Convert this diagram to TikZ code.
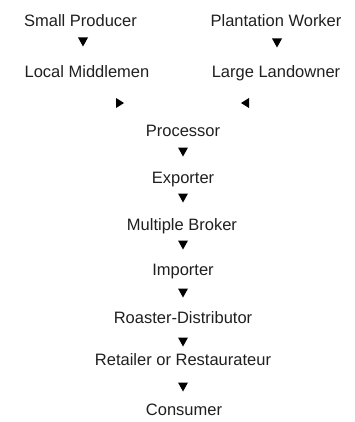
\documentclass[tikz,border=0pt]{standalone}
\usepackage{fontspec}
\setmainfont{Liberation Sans}
\begin{document}
\begin{tikzpicture}[x=1pt,y=-1pt,
  lbl/.style={anchor=base,inner sep=0pt,font=\fontsize{16.5}{18}\selectfont,text=black!88},
  tridown/.pic={\fill[black] (-5,-4.5) -- (5,-4.5) -- (0,4.5) -- cycle;},
  triright/.pic={\fill[black] (-4,-5) -- (-4,5) -- (4,0) -- cycle;},
  trileft/.pic={\fill[black] (4,-5) -- (4,5) -- (-4,0) -- cycle;}]
\useasboundingbox (0,0) rectangle (354,422);
\node[lbl] (sp) at (80.5,27) {Small Producer};
\node[lbl] (pw) at (276,27) {Plantation Worker};
\node[lbl] (lm) at (87,78) {Local Middlemen};
\node[lbl] (ll) at (276,78) {Large Landowner};
\node[lbl] (proc) at (183,136) {Processor};
\node[lbl] (exp) at (183,183) {Exporter};
\node[lbl] (mb) at (182,230) {Multiple Broker};
\node[lbl] (imp) at (183,275) {Importer};
\node[lbl] (rd) at (183,323) {Roaster-Distributor};
\node[lbl] (rr) at (183,365) {Retailer or Restaurateur};
\node[lbl] (con) at (184,415) {Consumer};
\pic at (83,42) {tridown};
\pic at (277,43) {tridown};
\pic at (120,103) {triright};
\pic at (245,103) {trileft};
\pic at (183,152) {tridown};
\pic at (183,198) {tridown};
\pic at (183,245) {tridown};
\pic at (183,293) {tridown};
\pic at (183,342) {tridown};
\pic at (183,387) {tridown};
\end{tikzpicture}
\end{document}
